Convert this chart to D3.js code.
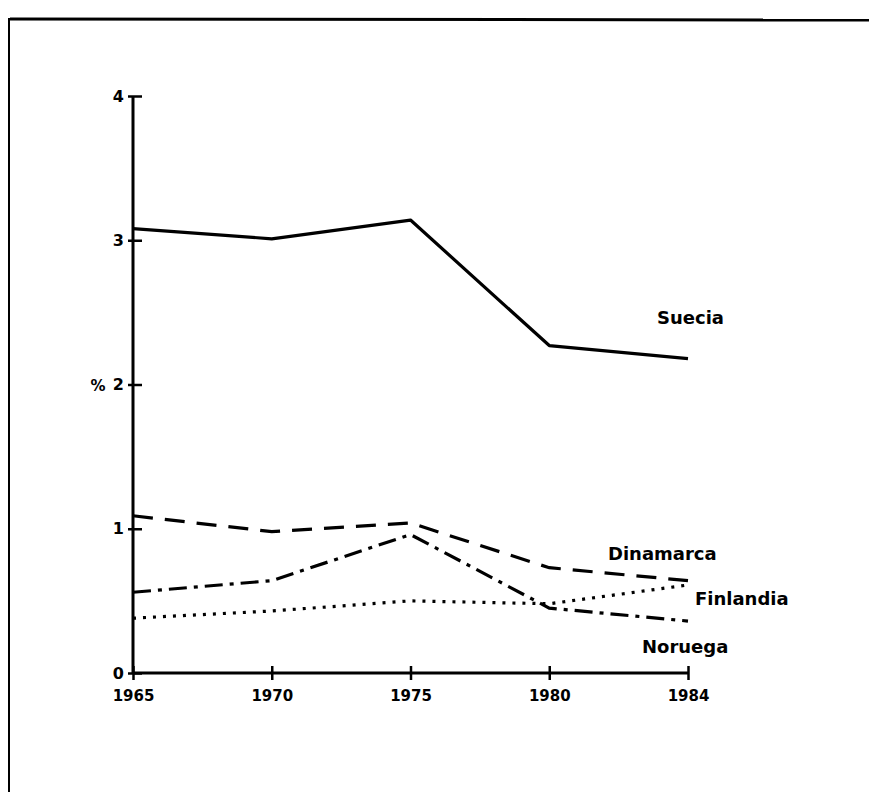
<!DOCTYPE html>
<html>
<head>
<meta charset="utf-8">
<script src="https://cdn.jsdelivr.net/npm/d3@7"></script>
<style>
  body { margin: 0; background: #fff; }
  svg { display: block; }
  text { font-family: "DejaVu Sans", sans-serif; font-weight: bold; fill: #000; }
</style>
</head>
<body>
<svg width="869" height="792"></svg>
<script>
const years = ['1965', '1970', '1975', '1980', '1984'];
const yTicks = [0, 1, 2, 3, 4];

const suecia    = [3.08, 3.01, 3.14, 2.27, 2.18];
const dinamarca = [1.09, 0.98, 1.04, 0.73, 0.64];
const noruega   = [0.56, 0.64, 0.96, 0.45, 0.36];
const finlandia = [0.38, 0.43, 0.50, 0.48, 0.61];

const seriesNames = ['Suecia', 'Dinamarca', 'Finlandia', 'Noruega'];

const svg = d3.select('svg');

// frame (top and left only, like the scan)
svg.append('line').attr('x1', 10).attr('x2', 869).attr('y1', 19).attr('y2', 20)
  .attr('stroke', '#000').attr('stroke-width', 3);
svg.append('line').attr('x1', 9).attr('x2', 9).attr('y1', 18).attr('y2', 792)
  .attr('stroke', '#000').attr('stroke-width', 2);

const x = d3.scalePoint().domain(years).range([133, 688]);
const y = d3.scaleLinear().domain([0, 4]).range([673, 96]);

// y axis
const yAxis = svg.append('g')
  .attr('transform', 'translate(133,0)')
  .call(d3.axisLeft(y).tickValues(yTicks).tickFormat(d3.format('d')).tickSize(6).tickPadding(3));
yAxis.select('.domain').attr('d', `M0,${y(4)}V${y(0)}`).attr('stroke-width', 3);
yAxis.selectAll('.tick line').attr('x1', 9).attr('x2', -5).attr('stroke-width', 2.5);
yAxis.selectAll('.tick text').attr('font-size', 16).attr('font-family', 'DejaVu Sans').attr('font-weight', 'bold');

svg.append('text').attr('x', 98).attr('y', y(2) + 6).attr('text-anchor', 'middle')
  .attr('font-size', 15).text('%');

// x axis
const xAxis = svg.append('g')
  .attr('transform', `translate(0,${y(0)})`)
  .call(d3.axisBottom(x).tickSize(7).tickPadding(10));
xAxis.select('.domain').attr('d', `M${x(years[0])},0H${x(years[years.length - 1])}`).attr('stroke-width', 3);
xAxis.selectAll('.tick line').attr('y1', -7).attr('y2', 7).attr('stroke-width', 2.5);
xAxis.selectAll('.tick text').attr('font-size', 15).attr('font-family', 'DejaVu Sans').attr('font-weight', 'bold');

// lines
const line = d3.line().x((d, i) => x(years[i])).y(d => y(d));

svg.append('path').datum(suecia).attr('d', line)
  .attr('fill', 'none').attr('stroke', '#000').attr('stroke-width', 3.2)
  .attr('stroke-linejoin', 'round');
svg.append('path').datum(dinamarca).attr('d', line)
  .attr('fill', 'none').attr('stroke', '#000').attr('stroke-width', 3.2)
  .attr('stroke-dasharray', '20,12');
svg.append('path').datum(noruega).attr('d', line)
  .attr('fill', 'none').attr('stroke', '#000').attr('stroke-width', 3.2)
  .attr('stroke-dasharray', '18,7,4,7');
svg.append('path').datum(finlandia).attr('d', line)
  .attr('fill', 'none').attr('stroke', '#000').attr('stroke-width', 3.2)
  .attr('stroke-dasharray', '3,7');

// series labels, placed from the last point of each line
const lastVals = [suecia, dinamarca, finlandia, noruega].map(s => s[s.length - 1]);
const labelDx = [-31, -80, 7, -46];
const labelDy = [-35, -21, 20, 32];

svg.selectAll('.lbl')
  .data(seriesNames)
  .enter()
  .append('text')
  .classed('lbl', true)
  .attr('x', (d, i) => x(years[years.length - 1]) + labelDx[i])
  .attr('y', (d, i) => y(lastVals[i]) + labelDy[i])
  .attr('font-size', 18)
  .text(d => d);
</script>
</body>
</html>
